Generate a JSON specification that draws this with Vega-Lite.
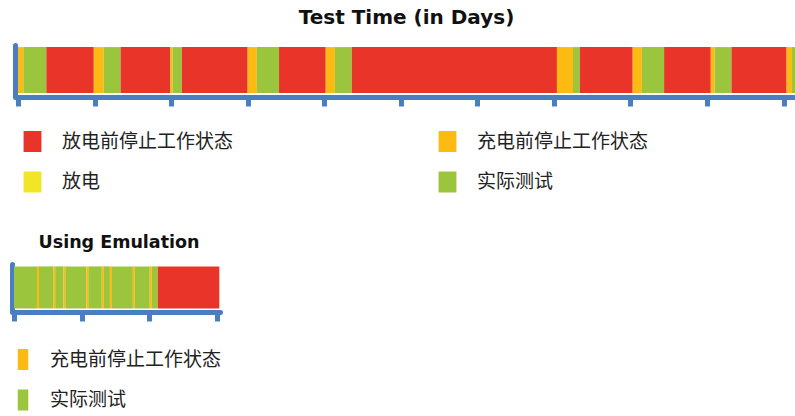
{
  "$schema": "https://vega.github.io/schema/vega-lite/v6.json",
  "padding": {"left": 11, "top": 8, "right": 0, "bottom": 0},
  "background": "white",
  "config": {"view": {"stroke": null}},
  "datasets": {
    "top": [
      {"series": "Test Time", "state": "充电前停止工作状态", "start": 0, "end": 0.07},
      {"series": "Test Time", "state": "实际测试", "start": 0.07, "end": 0.37},
      {"series": "Test Time", "state": "放电前停止工作状态", "start": 0.37, "end": 0.99},
      {"series": "Test Time", "state": "充电前停止工作状态", "start": 0.99, "end": 1.12},
      {"series": "Test Time", "state": "实际测试", "start": 1.12, "end": 1.34},
      {"series": "Test Time", "state": "放电前停止工作状态", "start": 1.34, "end": 1.99},
      {"series": "Test Time", "state": "充电前停止工作状态", "start": 1.99, "end": 2.02},
      {"series": "Test Time", "state": "实际测试", "start": 2.02, "end": 2.14},
      {"series": "Test Time", "state": "放电前停止工作状态", "start": 2.14, "end": 3.0},
      {"series": "Test Time", "state": "充电前停止工作状态", "start": 3.0, "end": 3.12},
      {"series": "Test Time", "state": "实际测试", "start": 3.12, "end": 3.41},
      {"series": "Test Time", "state": "放电前停止工作状态", "start": 3.41, "end": 4.02},
      {"series": "Test Time", "state": "充电前停止工作状态", "start": 4.02, "end": 4.14},
      {"series": "Test Time", "state": "实际测试", "start": 4.14, "end": 4.36},
      {"series": "Test Time", "state": "放电前停止工作状态", "start": 4.36, "end": 7.04},
      {"series": "Test Time", "state": "充电前停止工作状态", "start": 7.04, "end": 7.25},
      {"series": "Test Time", "state": "实际测试", "start": 7.25, "end": 7.34},
      {"series": "Test Time", "state": "放电前停止工作状态", "start": 7.34, "end": 8.03},
      {"series": "Test Time", "state": "充电前停止工作状态", "start": 8.03, "end": 8.15},
      {"series": "Test Time", "state": "实际测试", "start": 8.15, "end": 8.44},
      {"series": "Test Time", "state": "放电前停止工作状态", "start": 8.44, "end": 9.05},
      {"series": "Test Time", "state": "充电前停止工作状态", "start": 9.05, "end": 9.1},
      {"series": "Test Time", "state": "实际测试", "start": 9.1, "end": 9.32},
      {"series": "Test Time", "state": "放电前停止工作状态", "start": 9.32, "end": 10.04},
      {"series": "Test Time", "state": "充电前停止工作状态", "start": 10.04, "end": 10.11},
      {"series": "Test Time", "state": "实际测试", "start": 10.11, "end": 10.15}
    ],
    "bottom": [
      {"series": "Using Emulation", "state": "实际测试", "start": 0, "end": 0.34},
      {"series": "Using Emulation", "state": "充电前停止工作状态", "start": 0.34, "end": 0.37},
      {"series": "Using Emulation", "state": "实际测试", "start": 0.37, "end": 0.58},
      {"series": "Using Emulation", "state": "充电前停止工作状态", "start": 0.58, "end": 0.61},
      {"series": "Using Emulation", "state": "实际测试", "start": 0.61, "end": 0.73},
      {"series": "Using Emulation", "state": "充电前停止工作状态", "start": 0.73, "end": 0.76},
      {"series": "Using Emulation", "state": "实际测试", "start": 0.76, "end": 1.07},
      {"series": "Using Emulation", "state": "充电前停止工作状态", "start": 1.07, "end": 1.1},
      {"series": "Using Emulation", "state": "实际测试", "start": 1.1, "end": 1.3},
      {"series": "Using Emulation", "state": "充电前停止工作状态", "start": 1.3, "end": 1.33},
      {"series": "Using Emulation", "state": "实际测试", "start": 1.33, "end": 1.42},
      {"series": "Using Emulation", "state": "充电前停止工作状态", "start": 1.42, "end": 1.45},
      {"series": "Using Emulation", "state": "实际测试", "start": 1.45, "end": 1.76},
      {"series": "Using Emulation", "state": "充电前停止工作状态", "start": 1.76, "end": 1.79},
      {"series": "Using Emulation", "state": "实际测试", "start": 1.79, "end": 2.01},
      {"series": "Using Emulation", "state": "充电前停止工作状态", "start": 2.01, "end": 2.04},
      {"series": "Using Emulation", "state": "实际测试", "start": 2.04, "end": 2.13},
      {"series": "Using Emulation", "state": "放电前停止工作状态", "start": 2.13, "end": 3.04}
    ]
  },
  "columns": 1,
  "align": "none",
  "spacing": 40,
  "concat": [
    {
      "title": {"text": "Test Time (in Days)", "font": "DejaVu Sans", "fontSize": 20, "fontWeight": "bold", "color": "#111111", "anchor": "middle", "offset": 17},
      "width": 777,
      "height": 52,
      "data": {"name": "top"},
      "mark": {"type": "bar", "strokeWidth": 0},
      "encoding": {
        "x": {
          "field": "start", "type": "quantitative",
          "scale": {"domain": [0, 10.15], "nice": false, "zero": false},
          "axis": {"values": [0, 1, 2, 3, 4, 5, 6, 7, 8, 9, 10], "labels": false, "title": null, "grid": false,
                   "domainColor": "#4A7EC0", "domainWidth": 5, "domainCap": "round",
                   "tickColor": "#4A7EC0", "tickWidth": 5, "tickSize": 9}
        },
        "x2": {"field": "end"},
        "y": {
          "field": "series", "type": "nominal",
          "scale": {"paddingInner": 0, "paddingOuter": 0.065, "align": 0.35},
          "axis": {"labels": false, "ticks": false, "title": null, "grid": false,
                   "domainColor": "#4A7EC0", "domainWidth": 5, "domainCap": "round", "offset": 3}
        },
        "color": {
          "field": "state", "type": "nominal",
          "scale": {"domain": ["放电前停止工作状态", "充电前停止工作状态", "放电", "实际测试"],
                    "range": ["#E9342A", "#FDBA12", "#F0E626", "#9BC53D"]},
          "legend": {"orient": "none", "legendX": 4, "legendY": 86, "columns": 2, "columnPadding": 203, "rowPadding": 19.5,
                     "title": null, "padding": 0, "symbolType": "M-0.85,-1H0.85V1H-0.85Z", "symbolSize": 441, "symbolStrokeWidth": 0,
                     "labelFont": "Noto Sans CJK SC", "labelFontSize": 19, "labelColor": "#222222", "labelOffset": 19, "labelLimit": 400,
                     "values": ["放电前停止工作状态", "放电", "充电前停止工作状态", "实际测试"]}
        }
      }
    },
    {
      "title": {"text": "Using Emulation", "font": "DejaVu Sans", "fontSize": 17.5, "fontWeight": "bold", "color": "#111111", "anchor": "middle", "offset": 13},
      "width": 202,
      "height": 48,
      "data": {"name": "bottom"},
      "mark": {"type": "bar", "strokeWidth": 0},
      "encoding": {
        "x": {
          "field": "start", "type": "quantitative",
          "scale": {"domain": [0, 3.05], "range": [-4, 202], "nice": false, "zero": false},
          "axis": {"values": [0, 1, 2, 3], "labels": false, "title": null, "grid": false,
                   "domainColor": "#4A7EC0", "domainWidth": 5, "domainCap": "round",
                   "tickColor": "#4A7EC0", "tickWidth": 5, "tickSize": 9}
        },
        "x2": {"field": "end"},
        "y": {
          "field": "series", "type": "nominal",
          "scale": {"paddingInner": 0, "paddingOuter": 0.071, "align": 0.4},
          "axis": {"labels": false, "ticks": false, "title": null, "grid": false,
                   "domainColor": "#4A7EC0", "domainWidth": 5, "domainCap": "round", "offset": 6}
        },
        "color": {
          "field": "state", "type": "nominal",
          "scale": {"domain": ["充电前停止工作状态", "实际测试", "放电前停止工作状态"],
                    "range": ["#FDBA12", "#9BC53D", "#E9342A"]},
          "legend": {"orient": "none", "legendX": -5.5, "legendY": 85, "columns": 1, "rowPadding": 19.5,
                     "title": null, "padding": 0, "symbolType": "M-0.5,-1H0.5V1H-0.5Z", "symbolSize": 441, "symbolStrokeWidth": 0,
                     "labelFont": "Noto Sans CJK SC", "labelFontSize": 19, "labelColor": "#222222", "labelOffset": 16.5, "labelLimit": 400,
                     "values": ["充电前停止工作状态", "实际测试"]}
        }
      }
    }
  ],
  "resolve": {"scale": {"color": "independent", "x": "independent", "y": "independent"}, "legend": {"color": "independent"}}
}
